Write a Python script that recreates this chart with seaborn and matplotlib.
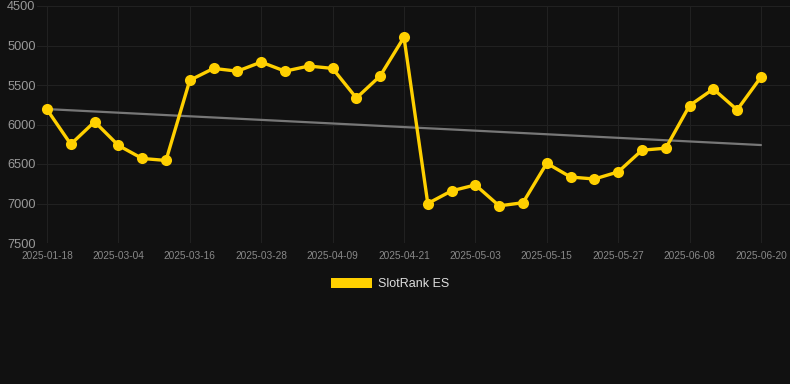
import numpy as np
import pandas as pd
import matplotlib
matplotlib.use("Agg")
import matplotlib.pyplot as plt
import seaborn as sns
from matplotlib.patches import Patch

# ---- data ----
tick_labels = ["2025-01-18", "2025-03-04", "2025-03-16", "2025-03-28", "2025-04-09",
               "2025-04-21", "2025-05-03", "2025-05-15", "2025-05-27", "2025-06-08",
               "2025-06-20"]
rank_values = [5810, 6250, 5965, 6265, 6430, 6455, 5440, 5290, 5325, 5210,
               5325, 5260, 5290, 5665, 5385, 4895, 7000, 6840, 6765, 7030,
               6990, 6490, 6665, 6690, 6600, 6325, 6300, 5760, 5550, 5815,
               5400]
trend_values = [5805, 6260]
series_name = "SlotRank ES"

df = pd.DataFrame({"idx": np.arange(len(rank_values)), "rank": rank_values})
trend_df = pd.DataFrame({"idx": [0, len(rank_values) - 1], "rank": trend_values})

sns.set_theme(style="dark")
plt.rcParams['font.family'] = ['Liberation Sans', 'DejaVu Sans']

bg = "#111111"
fig = plt.figure(figsize=(7.9, 3.84), dpi=100, facecolor=bg)
ax = fig.add_axes([37/790, 1 - 243/384, 1 - 37/790, (243 - 6)/384])
ax.set_facecolor(bg)

sns.lineplot(data=trend_df, x="idx", y="rank", ax=ax, color="#777777", linewidth=1.6, zorder=2)
sns.lineplot(data=df, x="idx", y="rank", ax=ax, color="#FFD000", linewidth=2.4,
             marker="o", markersize=8, markeredgewidth=0, zorder=3)

ax.set_ylim(7500, 4500)
ax.set_xlim(-0.42, 31.22)
ax.set_yticks([4500, 5000, 5500, 6000, 6500, 7000, 7500])
ax.set_xticks(np.arange(0, len(rank_values), 3))
ax.set_xticklabels(tick_labels)
ax.set_xlabel("")
ax.set_ylabel("")

ax.grid(True, color="#212121", linewidth=0.8)
for s in ax.spines.values():
    s.set_visible(False)
ax.tick_params(axis="y", colors="#999999", labelsize=9.2, length=0, pad=1)
ax.tick_params(axis="x", colors="#888888", labelsize=7.3, length=0, pad=6)
for lbl in ax.get_yticklabels():
    lbl.set_color("#999999")
for lbl in ax.get_xticklabels():
    lbl.set_color("#888888")

handle = Patch(facecolor="#FFD000", edgecolor="none")
leg = fig.legend([handle], [series_name], loc="center", bbox_to_anchor=(390/790, 1 - 284/384),
                 frameon=False, handlelength=3.3, handleheight=0.9, handletextpad=0.5,
                 fontsize=9)
for t in leg.get_texts():
    t.set_color("#dddddd")

fig.savefig("out.png", dpi=100, facecolor=bg)
